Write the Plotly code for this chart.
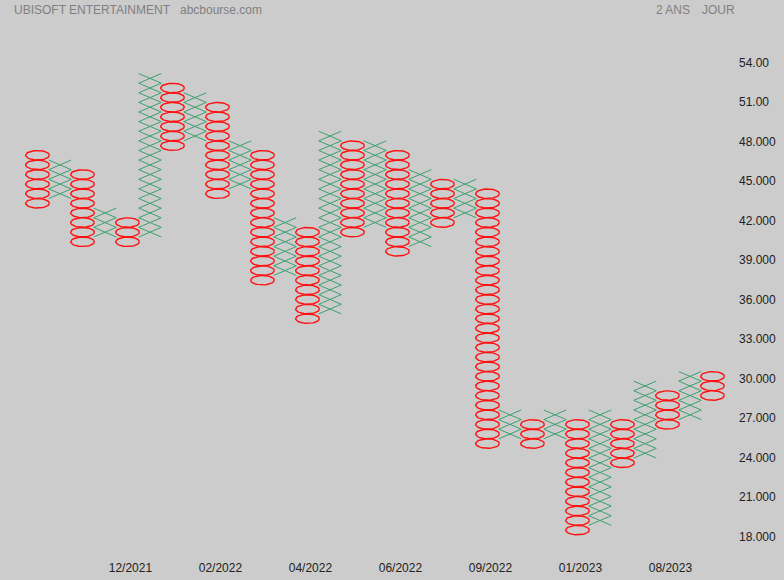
import numpy as np
import plotly.graph_objects as go

# ---- data ----
BOX = 0.73
col_type = list("OXOXOXOXOXOXOXOXOXOXOXOXOXOXOXO")
col_low = [43.32, 44.05, 40.40, 41.13, 40.40, 41.13, 47.70, 48.43, 44.05, 44.78,
           37.48, 38.21, 34.56, 35.29, 41.13, 41.86, 39.67, 40.40, 41.86, 42.59,
           25.07, 25.80, 25.07, 25.80, 18.50, 19.23, 23.61, 24.34, 26.53, 27.26, 28.72]
col_high = [46.97, 46.24, 45.51, 42.59, 41.86, 52.81, 52.08, 51.35, 50.62, 47.70,
            46.97, 41.86, 41.13, 48.43, 47.70, 47.70, 46.97, 45.51, 44.78, 44.78,
            44.05, 27.26, 26.53, 27.26, 26.53, 27.26, 26.53, 29.45, 28.72, 30.18, 30.18]
date_cols = [4, 8, 12, 16, 20, 24, 28]
date_labels = ["12/2021", "02/2022", "04/2022", "06/2022", "09/2022", "01/2023", "08/2023"]
ytick_vals = [54, 51, 48, 45, 42, 39, 36, 33, 30, 27, 24, 21, 18]
ytick_text = ["54.00", "51.00", "48.000", "45.000", "42.000", "39.000", "36.000",
              "33.000", "30.000", "27.000", "24.000", "21.000", "18.000"]

# ---- build marks ----
xx, xy, ox, oy = [], [], [], []
t = np.linspace(0, 2 * np.pi, 41)
RX, RY = 0.525, 0.49 * BOX
HX, HY = 0.5, 0.5 * BOX
for i, (ct, lo, hi) in enumerate(zip(col_type, col_low, col_high)):
    n = int(round((hi - lo) / BOX)) + 1
    for j in range(n):
        p = lo + j * BOX
        if ct == "X":
            xx += [i - HX, i + HX, None, i - HX, i + HX, None]
            xy += [p - HY, p + HY, None, p + HY, p - HY, None]
        else:
            ox += list(i + RX * np.cos(t)) + [None]
            oy += list(p + RY * np.sin(t)) + [None]

fig = go.Figure()
fig.add_trace(go.Scatter(x=xx, y=xy, mode="lines", line=dict(color="rgb(60,160,110)", width=1),
                         hoverinfo="skip", showlegend=False))
fig.add_trace(go.Scatter(x=ox, y=oy, mode="lines", line=dict(color="#ff1010", width=1.4),
                         hoverinfo="skip", showlegend=False))

L, R, T, B = 15, 738, 30, 559
W, H = 784, 580
ty = (B - 10) / (B - T)
fig.update_layout(
    width=W, height=H,
    margin=dict(l=L, r=W - R, t=T, b=H - B),
    paper_bgcolor="#cccccc", plot_bgcolor="#cccccc",
    font=dict(family="Liberation Sans, Arial, sans-serif", size=12, color="#222222"),
    xaxis=dict(range=[(L - 37.5) / 22.5, (R - 37.5) / 22.5], showgrid=False, zeroline=False,
               showline=False, ticks="", tickvals=[c + 0.13 for c in date_cols],
               ticktext=date_labels, fixedrange=True, automargin=False),
    yaxis=dict(range=[18 - (B - 536.7) / 13.167, 54 + (62.7 - T) / 13.167], side="right",
               showgrid=False, zeroline=False, showline=False, ticks="",
               tickvals=ytick_vals, ticktext=ytick_text, fixedrange=True, automargin=False),
    annotations=[
        dict(text="UBISOFT ENTERTAINMENT", xref="paper", yref="paper",
             x=(12 - L) / (R - L), y=ty, xanchor="left", yanchor="middle",
             showarrow=False, font=dict(size=12, color="#808080")),
        dict(text="abcbourse.com", xref="paper", yref="paper",
             x=(178 - L) / (R - L), y=ty, xanchor="left", yanchor="middle",
             showarrow=False, font=dict(size=12, color="#808080")),
        dict(text="2 ANS", xref="paper", yref="paper",
             x=(654 - L) / (R - L), y=ty, xanchor="left", yanchor="middle",
             showarrow=False, font=dict(size=12, color="#808080")),
        dict(text="JOUR", xref="paper", yref="paper",
             x=(700 - L) / (R - L), y=ty, xanchor="left", yanchor="middle",
             showarrow=False, font=dict(size=12, color="#808080")),
    ],
)
fig.write_html("out.html", config={"displayModeBar": False},
               post_script="document.body.style.margin='0';document.body.style.overflow='hidden';")
